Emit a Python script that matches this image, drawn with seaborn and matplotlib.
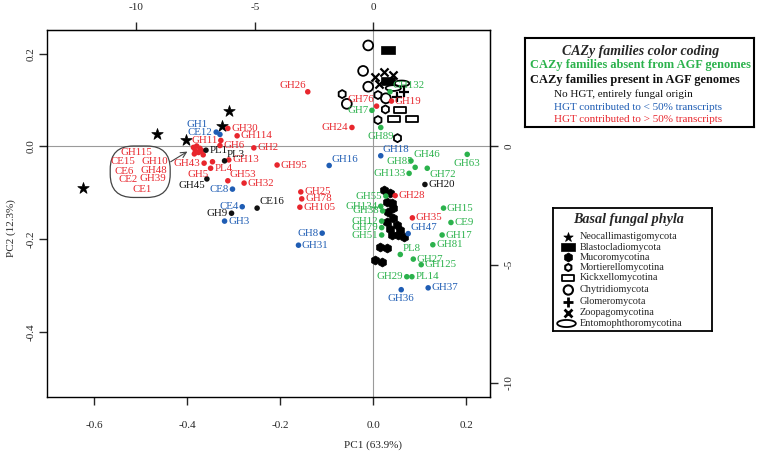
import numpy as np
import pandas as pd
import matplotlib
matplotlib.use("Agg")
import matplotlib.pyplot as plt
from matplotlib.path import Path
from matplotlib.patches import FancyBboxPatch
import seaborn as sns

sns.set_style("white")
plt.rcParams['font.family'] = ['Liberation Serif', 'DejaVu Serif']
plt.rcParams['axes.unicode_minus'] = False

# ---- CAZy families (loadings) -------------------------------------------
fam_names = ['GH30', 'GH114', 'GH11', 'GH6', 'GH2', 'GH43', 'PL4', 'GH5', 'GH13', 'GH53',
             'GH32', 'GH95', 'GH115', 'CE15', 'CE6', 'CE2', 'CE1', 'GH10', 'GH48', 'GH39',
             'GH25', 'GH78', 'GH105', 'GH28', 'GH35', 'GH26', 'GH76', 'GH19', 'GH24',
             'PL1', 'PL3', 'GH45', 'GH9', 'CE16', 'GH20',
             'CE12', 'GH1', 'CE8', 'CE4', 'GH3', 'GH16', 'GH18', 'GH8', 'GH31', 'GH47',
             'GH36', 'GH37',
             'GH46', 'GH63', 'GH85', 'GH72', 'GH133', 'GH55', 'GH134', 'GH38', 'GH12',
             'GH79', 'GH51', 'GH15', 'CE9', 'GH17', 'GH81', 'PL8', 'GH27', 'GH125',
             'GH29', 'PL14', 'GH132', 'GH7', 'GH89']
fam_pc1 = [-0.313, -0.293, -0.328, -0.330, -0.257, -0.364, -0.346, -0.350, -0.311, -0.313,
           -0.278, -0.207, -0.387, -0.380, -0.373, -0.383, -0.376, -0.369, -0.366, -0.385,
           -0.156, -0.154, -0.158, 0.047, 0.084, -0.141, 0.007, 0.039, -0.046,
           -0.360, -0.320, -0.358, -0.305, -0.250, 0.111,
           -0.338, -0.330, -0.303, -0.282, -0.320, -0.095, 0.016, -0.110, -0.161, 0.075,
           0.060, 0.118,
           0.081, 0.202, 0.090, 0.116, 0.077, 0.027, 0.016, 0.020, 0.018,
           0.018, 0.018, 0.151, 0.167, 0.148, 0.128, 0.058, 0.086, 0.103,
           0.072, 0.083, 0.036, -0.003, 0.016]
fam_pc2 = [0.039, 0.023, 0.013, 0.002, -0.003, -0.036, -0.033, -0.047, -0.029, -0.074,
           -0.079, -0.040, -0.002, 0.001, -0.004, -0.009, -0.013, -0.009, -0.018, -0.016,
           -0.098, -0.113, -0.131, -0.106, -0.154, 0.118, 0.087, 0.098, 0.041,
           -0.008, -0.031, -0.070, -0.144, -0.133, -0.082,
           0.031, 0.026, -0.092, -0.130, -0.161, -0.041, -0.020, -0.187, -0.213, -0.188,
           -0.309, -0.305,
           -0.031, -0.017, -0.045, -0.047, -0.058, -0.107, -0.129, -0.139, -0.161,
           -0.175, -0.191, -0.133, -0.164, -0.191, -0.212, -0.233, -0.243, -0.255,
           -0.281, -0.281, 0.118, 0.078, 0.041]
fam_group = (['gt50'] * 29 + ['nohgt'] * 6 + ['lt50'] * 12 + ['absent'] * 23)

# families whose labels sit in the loop on the left
loop_names = ['GH115', 'CE15', 'GH10', 'CE6', 'GH48', 'CE2', 'GH39', 'CE1']

# ---- genomes (scores), by basal fungal phylum ------------------------------
neo_pc1 = [-0.624, -0.466, -0.403, -0.326, -0.310]
neo_pc2 = [-0.089, 0.026, 0.014, 0.045, 0.077]
blasto_pc1 = [0.032, 0.032]
blasto_pc2 = [0.208, 0.142]
muco_pc1 = [0.022, 0.036, 0.029, 0.040, 0.043, 0.032, 0.029, 0.043, 0.050, 0.036,
            0.057, 0.040, 0.054, 0.065, 0.014, 0.029, 0.004, 0.018]
muco_pc2 = [-0.094, -0.101, -0.119, -0.123, -0.133, -0.141, -0.162, -0.155, -0.169, -0.177,
            -0.180, -0.191, -0.191, -0.195, -0.216, -0.220, -0.245, -0.250]
mort_pc1 = [-0.067, 0.010, 0.026, 0.010, 0.052]
mort_pc2 = [0.113, 0.111, 0.080, 0.057, 0.018]
kick_pc1 = [0.057, 0.045, 0.083]
kick_pc2 = [0.079, 0.059, 0.059]
chytr_pc1 = [-0.011, -0.022, -0.011, -0.057, 0.027]
chytr_pc2 = [0.218, 0.163, 0.129, 0.092, 0.104]
glom_pc1 = [0.050, 0.066]
glom_pc2 = [0.106, 0.118]
zoop_pc1 = [0.004, 0.022, 0.043, 0.013]
zoop_pc2 = [0.149, 0.160, 0.154, 0.134]
ento_pc1 = [0.061, 0.043]
ento_pc2 = [0.136, 0.126]

phyla = ['Neocallimastigomycota', 'Blastocladiomycota', 'Mucoromycotina',
         'Mortierellomycotina', 'Kickxellomycotina', 'Chytridiomycota',
         'Glomeromycota', 'Zoopagomycotina', 'Entomophthoromycotina']

green, blue, red, black = '#2bb24c', '#1f5db4', '#e8262d', '#111111'
palette = {'absent': green, 'nohgt': black, 'lt50': blue, 'gt50': red}

# custom markers
rect = Path([(-1, -0.55), (1, -0.55), (1, 0.55), (-1, 0.55), (-1, -0.55)],
            [Path.MOVETO, Path.LINETO, Path.LINETO, Path.LINETO, Path.CLOSEPOLY])
t = np.linspace(0, 2 * np.pi, 60)
oval = Path(np.column_stack([np.cos(t), 0.38 * np.sin(t)]), closed=True)

fig = plt.figure(figsize=(7.6, 4.55), dpi=100)
ax = fig.add_axes([47 / 760, 1 - 397 / 455, 443 / 760, 367 / 455])

ax.axhline(0, color='#9a9a9a', lw=0.8, zorder=0)
ax.axvline(0, color='#9a9a9a', lw=0.8, zorder=0)

# genomes
filled = dict(color='black', edgecolor='black', linewidth=0.5, zorder=2)
hollow = dict(color='black', facecolor='none', edgecolor='black', linewidth=1.3, zorder=2)
sns.scatterplot(x=neo_pc1, y=neo_pc2, marker='*', s=75, ax=ax, **filled)
sns.scatterplot(x=blasto_pc1, y=blasto_pc2, marker=rect, s=95, ax=ax, **filled)
sns.scatterplot(x=muco_pc1, y=muco_pc2, marker='h', s=42, ax=ax, **filled)
sns.scatterplot(x=mort_pc1, y=mort_pc2, marker='h', s=34, ax=ax, **hollow)
sns.scatterplot(x=kick_pc1, y=kick_pc2, marker=rect, s=75, ax=ax, **hollow)
sns.scatterplot(x=chytr_pc1, y=chytr_pc2, marker='o', s=50, ax=ax, **hollow)
sns.scatterplot(x=glom_pc1, y=glom_pc2, marker='+', s=50, color='black', linewidth=1.6,
                ax=ax, zorder=2)
sns.scatterplot(x=zoop_pc1, y=zoop_pc2, marker='x', s=34, color='black', linewidth=1.6,
                ax=ax, zorder=2)
sns.scatterplot(x=ento_pc1, y=ento_pc2, marker=oval, s=120, ax=ax, **hollow)

# CAZy families
fam = pd.DataFrame({'name': fam_names, 'pc1': fam_pc1, 'pc2': fam_pc2, 'group': fam_group})
sns.scatterplot(data=fam, x='pc1', y='pc2', hue='group', palette=palette, s=16,
                edgecolor='none', legend=False, ax=ax, zorder=4)

label_pos = {'GH11': 'l', 'GH43': 'l', 'PL4': 'rb', 'GH5': 'lb', 'GH53': 'ra',
             'GH26': 'la', 'GH76': 'la', 'GH24': 'l', 'PL3': 'ra', 'GH45': 'lb',
             'GH9': 'l', 'CE16': 'ra', 'CE12': 'l', 'GH1': 'gh1', 'CE8': 'l', 'CE4': 'l',
             'GH16': 'ra', 'GH18': 'ra', 'GH8': 'l', 'GH47': 'ra', 'GH36': 'b',
             'GH46': 'ra', 'GH63': 'b', 'GH85': 'la', 'GH72': 'rb', 'GH133': 'l',
             'GH55': 'l', 'GH134': 'l', 'GH38': 'l', 'GH12': 'l', 'GH79': 'l', 'GH51': 'l',
             'PL8': 'ra', 'GH29': 'l', 'GH132': 'ra', 'GH7': 'l', 'GH89': 'b'}
offsets = {'r': ((2.5, 0), 'left'), 'l': ((-2.5, 0), 'right'),
           'b': ((0, -6.5), 'center'), 'ra': ((1.5, 4.5), 'left'),
           'la': ((-1.5, 4.5), 'right'), 'rb': ((1.5, -4.5), 'left'),
           'lb': ((-1.5, -4.5), 'right'), 'gh1': ((-8.5, 7.5), 'right')}

for _, row in fam.iterrows():
    if row['name'] in loop_names:
        continue
    (dx, dy), ha = offsets[label_pos.get(row['name'], 'r')]
    ax.annotate(row['name'], (row['pc1'], row['pc2']), xytext=(dx, dy),
                textcoords='offset points', ha=ha, va='center', fontsize=7.8,
                color=palette[row['group']], zorder=5)

# loop holding the crowded labels on the left
loop_xy = {'GH115': (-0.510, -0.013), 'CE15': (-0.538, -0.033), 'GH10': (-0.470, -0.033),
           'CE6': (-0.536, -0.053), 'GH48': (-0.473, -0.051), 'CE2': (-0.527, -0.072),
           'GH39': (-0.475, -0.070), 'CE1': (-0.498, -0.092)}
for name, (lx, ly) in loop_xy.items():
    ax.text(lx, ly, name, ha='center', va='center', fontsize=7.8, color=red, zorder=5)
ax.add_patch(FancyBboxPatch((-0.566, -0.110), 0.129, 0.111,
                            boxstyle='round,pad=0,rounding_size=0.05',
                            fc='none', ec='#444444', lw=0.9, zorder=3))
ax.annotate('', xy=(-0.400, -0.011), xytext=(-0.436, -0.033),
            arrowprops=dict(arrowstyle='->', color='#444444', lw=0.8,
                            shrinkA=0, shrinkB=0))

# axes
ax.set_xlim(-0.702, 0.251)
ax.set_ylim(-0.5405, 0.2513)
ax.set_xticks([-0.6, -0.4, -0.2, 0.0, 0.2])
ax.set_yticks([-0.4, -0.2, 0.0, 0.2])
ax.set_xticklabels(['-0.6', '-0.4', '-0.2', '0.0', '0.2'])
ax.set_yticklabels(['-0.4', '-0.2', '0.0', '0.2'], rotation=90, va='center')
ax.tick_params(axis='x', length=5.8, width=1, pad=11.5, labelsize=8, bottom=True)
ax.tick_params(axis='y', length=5.8, width=1, pad=2.5, labelsize=8, left=True)
for sp in ax.spines.values():
    sp.set_color('black')
    sp.set_linewidth(1.0)
ax.set_xlabel('')
ax.set_ylabel('')

scale = 19.62
sec_x = ax.secondary_xaxis('top', functions=(lambda v: v * scale, lambda v: v / scale))
sec_x.set_xticks([-10, -5, 0])
sec_x.tick_params(length=5.8, width=1, pad=7, labelsize=8)
sec_y = ax.secondary_yaxis('right', functions=(lambda v: v * scale, lambda v: v / scale))
sec_y.set_yticks([-10, -5, 0])
sec_y.set_yticklabels(['-10', '-5', '0'], rotation=90, va='center')
sec_y.tick_params(length=5.8, width=1, pad=5, labelsize=8)

fig.text(373 / 760, 1 - 445 / 455, 'PC1 (63.9%)', ha='center', va='center', fontsize=8)
fig.text(11 / 760, 1 - 228 / 455, 'PC2 (12.3%)', ha='center', va='center', fontsize=8,
         rotation=90)

# ---- legend: colour coding ------------------------------------------------
lg1 = fig.add_axes([525 / 760, 1 - 127 / 455, 229 / 760, 89 / 455])
lg1.set_xlim(525, 754)
lg1.set_ylim(127, 38)
lg1.set_xticks([])
lg1.set_yticks([])
for sp in lg1.spines.values():
    sp.set_linewidth(1.5)
    sp.set_color('black')
lg1.text(641, 51, 'CAZy families color coding', ha='center', va='center', fontsize=10,
         fontweight='bold', fontstyle='italic')
lg1.text(530, 65, 'CAZy families absent from AGF genomes', ha='left', va='center',
         fontsize=8.9, fontweight='bold', color=green)
lg1.text(530, 80, 'CAZy families present in AGF genomes', ha='left', va='center',
         fontsize=8.9, fontweight='bold', color=black)
lg1.text(554, 94.5, 'No HGT, entirely fungal origin', ha='left', va='center', fontsize=8,
         color=black)
lg1.text(554, 107.5, 'HGT contributed to < 50% transcripts', ha='left', va='center',
         fontsize=8, color=blue)
lg1.text(554, 119.5, 'HGT contributed to > 50% transcripts', ha='left', va='center',
         fontsize=8, color=red)

# ---- legend: basal fungal phyla ------------------------------------------
lg2 = fig.add_axes([553 / 760, 1 - 331 / 455, 159 / 760, 123 / 455])
lg2.set_xlim(553, 712)
lg2.set_ylim(331, 208)
lg2.set_xticks([])
lg2.set_yticks([])
for sp in lg2.spines.values():
    sp.set_linewidth(1.3)
    sp.set_color('black')
lg2.text(629, 219.5, 'Basal fungal phyla', ha='center', va='center', fontsize=10.2,
         fontweight='bold', fontstyle='italic')
rows = [236.5, 247, 257, 267.5, 278, 290, 301.5, 312.5, 323.5]
keys = [('*', 50, True, 1), (rect, 90, True, 1), ('h', 42, True, 1), ('h', 26, False, 1.5),
        (rect, 70, False, 1.3), ('o', 45, False, 1.5), ('+', 55, None, 2.0),
        ('x', 32, None, 2.0), (oval, 180, False, 1.3)]
for ypos, name, (mk, size, fill, lw) in zip(rows, phyla, keys):
    mx = 566.5 if mk is oval else 568.3
    if fill is None:
        lg2.scatter([mx], [ypos], marker=mk, s=size, color='black', linewidths=lw)
    elif fill:
        lg2.scatter([mx], [ypos], marker=mk, s=size, color='black', linewidths=0.5)
    else:
        lg2.scatter([mx], [ypos], marker=mk, s=size, facecolors='none',
                    edgecolors='black', linewidths=lw)
    lg2.text(579.3, ypos, name, ha='left', va='center', fontsize=7.4)

fig.savefig('out.png', dpi=100, facecolor='white')
